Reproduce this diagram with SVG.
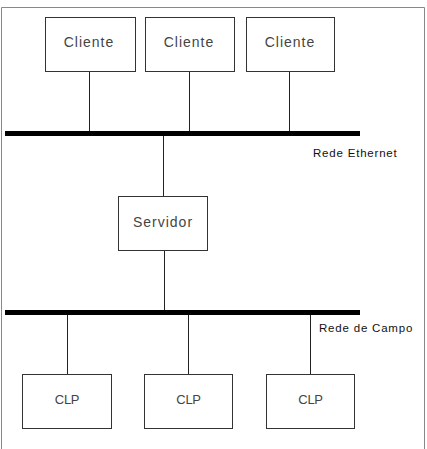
<svg xmlns="http://www.w3.org/2000/svg" width="427" height="449" viewBox="0 0 427 449">
<style>
.box{fill:#fff;stroke:#333;stroke-width:1}
.bus{stroke:#000;stroke-width:5}
.ln{stroke:#222;stroke-width:1}
.lbl{font-family:"Liberation Sans",Arial,sans-serif;font-size:14px;fill:#444;text-anchor:middle;letter-spacing:1px}
.clp{font-size:13px;letter-spacing:-0.3px}
.net{font-family:"Liberation Sans",Arial,sans-serif;font-size:11.5px;fill:#111;letter-spacing:0.8px}
</style>
<rect x="0" y="0" width="427" height="449" fill="#fff"/>
<path d="M1.5,449 V7.5 H424.5 V449" fill="none" stroke="#888" stroke-width="1"/>
<g id="connectors">
<line class="bus" x1="5" y1="133.5" x2="360" y2="133.5"/>
<line class="bus" x1="5" y1="312.5" x2="360" y2="312.5"/>
<line class="ln" x1="89.5" y1="71" x2="89.5" y2="131"/>
<line class="ln" x1="189.5" y1="71" x2="189.5" y2="131"/>
<line class="ln" x1="289.5" y1="71" x2="289.5" y2="131"/>
<line class="ln" x1="163.5" y1="136" x2="163.5" y2="196"/>
<line class="ln" x1="164.5" y1="250" x2="164.5" y2="310"/>
<line class="ln" x1="67.5" y1="315" x2="67.5" y2="374" stroke="#888"/>
<line class="ln" x1="188.5" y1="315" x2="188.5" y2="374"/>
<line class="ln" x1="310.5" y1="315" x2="310.5" y2="374"/>
</g>
<g id="cliente1"><rect class="box" x="45.5" y="17.5" width="90" height="54"/><text class="lbl" x="89" y="47">Cliente</text></g>
<g id="cliente2"><rect class="box" x="145.5" y="17.5" width="89" height="54"/><text class="lbl" x="189" y="47">Cliente</text></g>
<g id="cliente3"><rect class="box" x="246.5" y="17.5" width="88" height="54"/><text class="lbl" x="290" y="47">Cliente</text></g>
<g id="servidor"><rect class="box" x="118.5" y="196.5" width="89" height="54"/><text class="lbl" x="163" y="227">Servidor</text></g>
<g id="clp1"><rect class="box" x="22.5" y="374.5" width="89" height="54"/><text class="lbl clp" x="67" y="404">CLP</text></g>
<g id="clp2"><rect class="box" x="144.5" y="374.5" width="88" height="54"/><text class="lbl clp" x="188.5" y="404">CLP</text></g>
<g id="clp3"><rect class="box" x="266.5" y="374.5" width="88" height="54"/><text class="lbl clp" x="310.5" y="404">CLP</text></g>
<g id="rede-ethernet"><text class="net" x="313" y="157">Rede Ethernet</text></g>
<g id="rede-campo"><text class="net" x="319" y="332">Rede de Campo</text></g>
</svg>
